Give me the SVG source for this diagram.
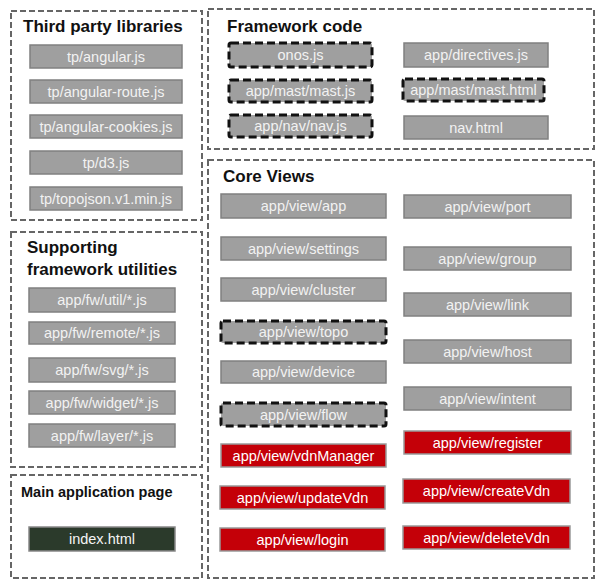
<svg xmlns="http://www.w3.org/2000/svg" width="610" height="588" viewBox="0 0 610 588">
<style>
.grp{fill:none;stroke:#666;stroke-width:2;stroke-dasharray:6 3}
.title{font-family:"Liberation Sans",Arial,sans-serif;font-weight:bold;font-size:17px;fill:#111}
.n rect{fill:#9f9f9f;stroke:#808080;stroke-width:1.5}
.n text{font-family:"Liberation Sans",Arial,sans-serif;font-size:14.5px;fill:#f2f2f2;text-anchor:middle}
.d rect{stroke:#111;stroke-width:3;stroke-dasharray:8 4}
.r rect{fill:#c40008;stroke:#999}
.r text{fill:#fff}
.g rect{fill:#2b3a2b;stroke:#888}
.g text{fill:#f4f4f4}
</style>
<rect width="610" height="588" fill="#fff"/>

<g id="third-party">
<rect class="grp" x="11" y="11" width="191" height="209"/>
<text class="title" x="23" y="32">Third party libraries</text>
<g id="tp-angular" class="n"><rect x="30" y="45" width="152" height="23"/><text x="106" y="61.5">tp/angular.js</text></g>
<g id="tp-angular-route" class="n"><rect x="30" y="80" width="152" height="23"/><text x="106" y="96.5">tp/angular-route.js</text></g>
<g id="tp-angular-cookies" class="n"><rect x="30" y="115" width="152" height="23"/><text x="106" y="131.5">tp/angular-cookies.js</text></g>
<g id="tp-d3" class="n"><rect x="30" y="151" width="152" height="23"/><text x="106" y="167.5">tp/d3.js</text></g>
<g id="tp-topojson" class="n"><rect x="30" y="187" width="152" height="23"/><text x="106" y="203.5">tp/topojson.v1.min.js</text></g>
</g>

<g id="framework">
<rect class="grp" x="208" y="9" width="386" height="140"/>
<text class="title" x="227" y="32">Framework code</text>
<g id="onos" class="n d"><rect x="229" y="43" width="143" height="24" rx="2"/><text x="300.5" y="60">onos.js</text></g>
<g id="directives" class="n"><rect x="404" y="43" width="144" height="24"/><text x="476" y="60">app/directives.js</text></g>
<g id="mast-js" class="n d"><rect x="229" y="80" width="143" height="22" rx="2"/><text x="300.5" y="96">app/mast/mast.js</text></g>
<g id="mast-html" class="n d"><rect x="403" y="79" width="141" height="22" rx="2"/><text x="473.5" y="95">app/mast/mast.html</text></g>
<g id="nav-js" class="n d"><rect x="229" y="115" width="143" height="22" rx="2"/><text x="300.5" y="131">app/nav/nav.js</text></g>
<g id="nav-html" class="n"><rect x="404" y="116" width="144" height="23"/><text x="476" y="132.5">nav.html</text></g>
</g>

<g id="supporting">
<rect class="grp" x="11" y="232" width="191" height="235"/>
<text class="title" x="27" y="253">Supporting</text>
<text class="title" x="27" y="275">framework utilities</text>
<g id="fw-util" class="n"><rect x="29" y="288" width="146" height="24"/><text x="102" y="305">app/fw/util/*.js</text></g>
<g id="fw-remote" class="n"><rect x="29" y="322" width="146" height="22"/><text x="102" y="338">app/fw/remote/*.js</text></g>
<g id="fw-svg" class="n"><rect x="29" y="358" width="146" height="24"/><text x="102" y="375">app/fw/svg/*.js</text></g>
<g id="fw-widget" class="n"><rect x="29" y="391" width="146" height="23"/><text x="102" y="407.5">app/fw/widget/*.js</text></g>
<g id="fw-layer" class="n"><rect x="29" y="424" width="146" height="23"/><text x="102" y="440.5">app/fw/layer/*.js</text></g>
</g>

<g id="main-page">
<rect class="grp" x="11" y="475" width="191" height="103"/>
<text class="title" x="21" y="497" style="font-size:14.5px">Main application page</text>
<g id="index" class="n g"><rect x="29" y="527" width="146" height="24"/><text x="102" y="544">index.html</text></g>
</g>

<g id="core-views">
<rect class="grp" x="208" y="160" width="386" height="418"/>
<text class="title" x="223" y="182">Core Views</text>
<g id="v-app" class="n"><rect x="221" y="194" width="165" height="24"/><text x="303.5" y="211">app/view/app</text></g>
<g id="v-settings" class="n"><rect x="221" y="237" width="165" height="23"/><text x="303.5" y="253.5">app/view/settings</text></g>
<g id="v-cluster" class="n"><rect x="221" y="278" width="165" height="23"/><text x="303.5" y="294.5">app/view/cluster</text></g>
<g id="v-topo" class="n d"><rect x="221" y="321" width="165" height="22" rx="2"/><text x="303.5" y="337">app/view/topo</text></g>
<g id="v-device" class="n"><rect x="221" y="361" width="165" height="22"/><text x="303.5" y="377">app/view/device</text></g>
<g id="v-flow" class="n d"><rect x="221" y="403" width="165" height="23" rx="2"/><text x="303.5" y="419.5">app/view/flow</text></g>
<g id="v-vdnManager" class="n r"><rect x="221" y="444" width="165" height="23"/><text x="303.5" y="460.5">app/view/vdnManager</text></g>
<g id="v-updateVdn" class="n r"><rect x="220" y="486" width="165" height="23"/><text x="302.5" y="502.5">app/view/updateVdn</text></g>
<g id="v-login" class="n r"><rect x="220" y="528" width="165" height="23"/><text x="302.5" y="544.5">app/view/login</text></g>
<g id="v-port" class="n"><rect x="404" y="195" width="167" height="23"/><text x="487.5" y="211.5">app/view/port</text></g>
<g id="v-group" class="n"><rect x="404" y="247" width="167" height="23"/><text x="487.5" y="263.5">app/view/group</text></g>
<g id="v-link" class="n"><rect x="404" y="293" width="167" height="23"/><text x="487.5" y="309.5">app/view/link</text></g>
<g id="v-host" class="n"><rect x="404" y="340" width="167" height="23"/><text x="487.5" y="356.5">app/view/host</text></g>
<g id="v-intent" class="n"><rect x="404" y="387" width="167" height="23"/><text x="487.5" y="403.5">app/view/intent</text></g>
<g id="v-register" class="n r"><rect x="404" y="431" width="167" height="23"/><text x="487.5" y="447.5">app/view/register</text></g>
<g id="v-createVdn" class="n r"><rect x="403" y="479" width="167" height="24"/><text x="486.5" y="496">app/view/createVdn</text></g>
<g id="v-deleteVdn" class="n r"><rect x="403" y="526" width="167" height="23"/><text x="486.5" y="542.5">app/view/deleteVdn</text></g>
</g>

<g id="connectors"></g>
</svg>
